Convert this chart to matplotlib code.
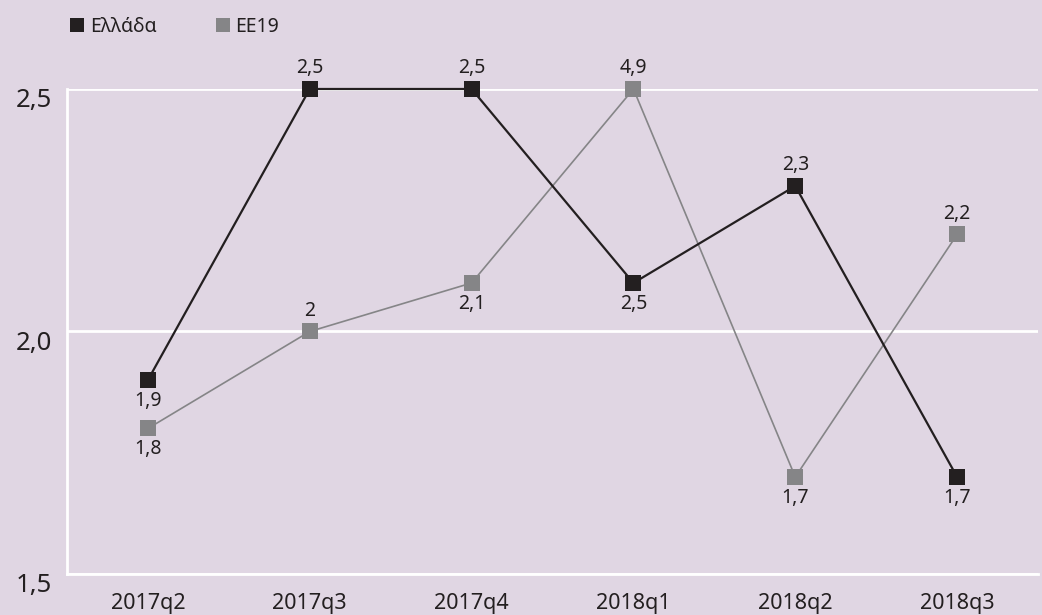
import matplotlib
matplotlib.use('Agg')
import matplotlib.pyplot as plt
import matplotlib.transforms as mtransforms
from matplotlib.lines import Line2D
import numpy as np

plt.rcParams['font.family'] = ['Noto Sans', 'DejaVu Sans']

BG = '#e0d6e3'
DARK = '#231f20'
GREY = '#858587'

quarters = ['2017q2', '2017q3', '2017q4', '2018q1', '2018q2', '2018q3']
greece = [1.9, 2.5, 2.5, 2.1, 2.3, 1.7]
ee19 = [1.8, 2.0, 2.1, 4.9, 1.7, 2.2]
greece_text = ['1,9', '2,5', '2,5', '2,5', '2,3', '1,7']
ee19_text = ['1,8', '2', '2,1', '4,9', '1,7', '2,2']
greece_side = [-1, 1, 1, -1, 1, -1]
ee19_side = [-1, 1, -1, 1, -1, 1]
y_ticks = [1.5, 2.0, 2.5]
y_tick_text = ['1,5', '2,0', '2,5']

fig = plt.figure(figsize=(10.42, 6.15), dpi=100, facecolor=BG)
ax = fig.add_axes([0.0643, 0.0667, 0.9319, 0.7886], facecolor=BG)

ymin, ymax = 1.5, 2.5
x = np.arange(len(quarters))

series = [
    (ee19, ee19_text, ee19_side, GREY, 1.2),
    (greece, greece_text, greece_side, DARK, 1.6),
]
for vals, texts, sides, color, lw in series:
    shown = np.clip(vals, ymin, ymax)
    ax.plot(x, shown, color=color, linewidth=lw, marker='s', markersize=11.5,
            markeredgewidth=0, clip_on=False, zorder=3)
    for xi, yi, t, s in zip(x, shown, texts, sides):
        ax.annotate(t, (xi, yi), xytext=(0, 15 * s), textcoords='offset points',
                    ha='center', va='center', fontsize=14, color=DARK,
                    annotation_clip=False)

ax.set_xlim(-0.5, len(quarters) - 0.5)
ax.set_ylim(ymin, ymax)
ax.set_xticks(x)
ax.set_xticklabels(quarters, fontsize=15.5, color=DARK)
ax.set_yticks(y_ticks)
ax.set_yticklabels(y_tick_text, fontsize=18.5, color=DARK)
ax.tick_params(axis='both', length=0)
ax.tick_params(axis='x', pad=14)
ax.tick_params(axis='y', pad=11)

# nudge y labels slightly below their gridlines
shift = mtransforms.ScaledTranslation(0, -9 / 100, fig.dpi_scale_trans)
for lab in ax.get_yticklabels():
    lab.set_transform(lab.get_transform() + shift)

ax.grid(axis='y', color='white', linewidth=2)
ax.grid(axis='x', visible=False)
for side in ['top', 'right']:
    ax.spines[side].set_visible(False)
for side in ['left', 'bottom']:
    ax.spines[side].set_color('white')
    ax.spines[side].set_linewidth(2)

handles = [
    Line2D([], [], linestyle='none', marker='s', markersize=10.5, color=DARK, markeredgewidth=0),
    Line2D([], [], linestyle='none', marker='s', markersize=10.5, color=GREY, markeredgewidth=0),
]
fig.legend(handles, ['Ελλάδα', 'EE19'], loc='center left', bbox_to_anchor=(0.05, 0.956),
           ncol=2, frameon=False, fontsize=14, handlelength=0.8, handletextpad=0.25,
           columnspacing=3.0, labelcolor=DARK)

fig.savefig('out.png', dpi=100, facecolor=BG)
